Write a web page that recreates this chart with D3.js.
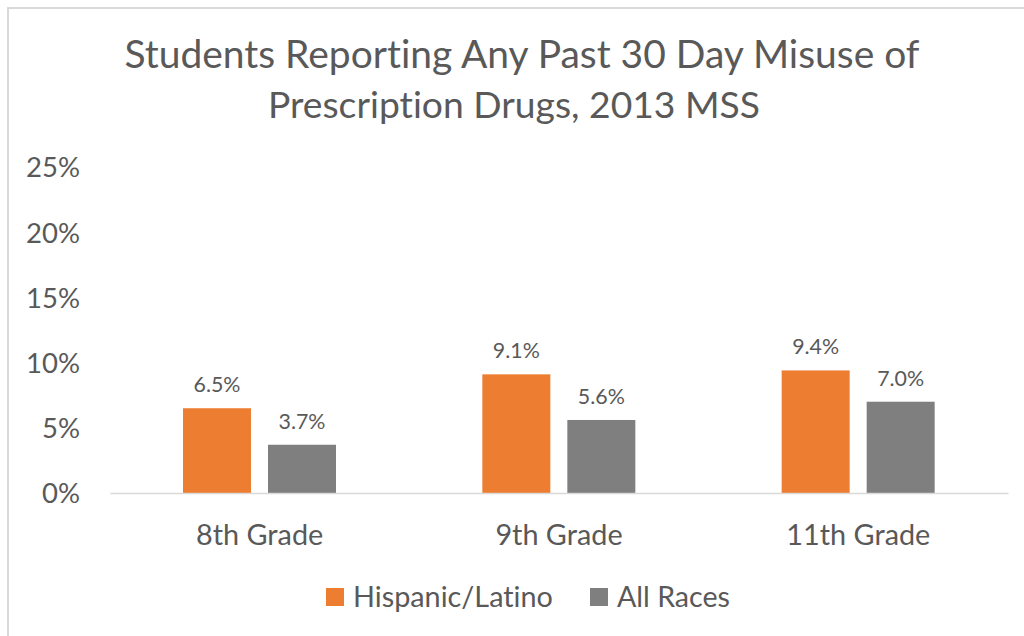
<!DOCTYPE html>
<html><head><meta charset="utf-8">
<script src="https://cdn.jsdelivr.net/npm/d3@7"></script>
<style>html,body{margin:0;padding:0;background:#fff;}svg{display:block;}text{font-variant-ligatures:none;font-feature-settings:"liga" 0,"clig" 0;}</style>
</head><body>
<svg id="c" width="1024" height="636"></svg>
<script>
const categories = ["8th Grade", "9th Grade", "11th Grade"];
const seriesNames = ["Hispanic/Latino", "All Races"];
const hispanic = [6.5, 9.1, 9.4];
const allRaces = [3.7, 5.6, 7.0];
const yTicks = [0, 5, 10, 15, 20, 25];
const titleLines = ["Students Reporting Any Past 30 Day Misuse of", "Prescription Drugs, 2013 MSS"];

const colors = ["#ED7D31", "#7F7F7F"];
const textColor = "#595959";
const font = "Lato, 'Open Sans', sans-serif";

const svg = d3.select("#c");

function fit(sel, w) {
  sel.each(function() {
    const t = d3.select(this);
    const fs = parseFloat(t.attr("font-size"));
    const cw = this.getComputedTextLength();
    if (cw > 0) t.attr("font-size", (fs * w / cw).toFixed(2));
  });
}

// border
svg.append("path").attr("d", "M8,636 L8,8 L1024,8").attr("fill", "none")
  .attr("stroke", "#D9D9D9").attr("stroke-width", 2);

// title
const tCenters = [522, 514], tBase = [68, 118], tW = [795, 492];
titleLines.forEach((s, i) => {
  svg.append("text").attr("x", tCenters[i]).attr("y", tBase[i])
    .attr("text-anchor", "middle").attr("font-family", font).attr("font-size", 38)
    .attr("fill", textColor).text(s).call(fit, tW[i]);
});

const x0 = d3.scaleBand().domain(categories).range([110, 1008]).padding(0);
const x1 = d3.scaleBand().domain(seriesNames).range([73, 226]).paddingInner(0.2);
const y = d3.scaleLinear().domain([0, 25]).range([493, 167]);

// y axis labels
const ya = svg.append("g").attr("transform", "translate(80,0)")
  .call(d3.axisLeft(y).tickValues(yTicks).tickSize(0).tickPadding(0).tickFormat(d => d + "%"));
ya.select(".domain").remove();
ya.selectAll("text").attr("font-family", font).attr("font-size", 27).attr("fill", textColor)
  .attr("dy", "0.36em");
ya.selectAll("text").filter(d => d === 25).call(fit, 54);
const yfs = ya.selectAll("text").filter(d => d === 25).attr("font-size");
ya.selectAll("text").attr("font-size", yfs);

// bars
const data = categories.map((c, i) => ({ c, vals: [hispanic[i], allRaces[i]] }));
const groups = svg.selectAll("g.grp").data(data).join("g").attr("class", "grp")
  .attr("transform", d => `translate(${x0(d.c)},0)`);
groups.selectAll("rect").data(d => d.vals.map((v, j) => ({ v, s: seriesNames[j], j })))
  .join("rect")
  .attr("x", d => x1(d.s)).attr("width", x1.bandwidth())
  .attr("y", d => y(d.v)).attr("height", d => y(0) - y(d.v))
  .attr("fill", d => colors[d.j]);
groups.selectAll("text").data(d => d.vals.map((v, j) => ({ v, s: seriesNames[j], j })))
  .join("text")
  .attr("x", d => x1(d.s) + x1.bandwidth() / 2).attr("y", d => y(d.v) - 16)
  .attr("text-anchor", "middle").attr("font-family", font).attr("font-size", 20)
  .attr("fill", textColor).text(d => d.v.toFixed(1) + "%");
const first = svg.select("g.grp text");
first.call(fit, 47);
svg.selectAll("g.grp text").attr("font-size", first.attr("font-size"));

// x axis
const xa = svg.append("g").attr("transform", "translate(0,493)")
  .call(d3.axisBottom(x0).tickSize(0).tickPadding(0));
xa.select(".domain").attr("stroke", "#D9D9D9").attr("stroke-width", 1.5);
xa.selectAll("text").attr("font-family", font).attr("font-size", 27).attr("fill", textColor)
  .attr("dy", 0).attr("y", 52);
xa.selectAll("text").filter(d => d === "11th Grade").call(fit, 144);
const xfs = xa.selectAll("text").filter(d => d === "11th Grade").attr("font-size");
xa.selectAll("text").attr("font-size", xfs);

// legend
const legX = [326, 590], legTW = [200, 113];
seriesNames.forEach((s, i) => {
  svg.append("rect").attr("x", legX[i]).attr("y", 588).attr("width", 18).attr("height", 18)
    .attr("fill", colors[i]);
  svg.append("text").attr("x", legX[i] + 27).attr("y", 607).attr("font-family", font)
    .attr("font-size", 27).attr("fill", textColor).text(s).call(fit, legTW[i]);
});
</script>
</body></html>
